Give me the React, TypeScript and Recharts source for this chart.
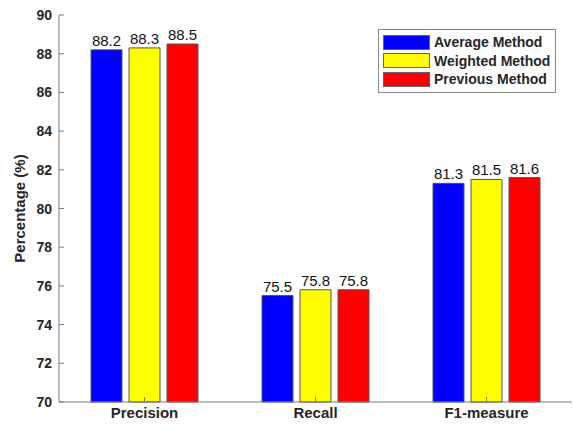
import { BarChart, Bar, XAxis, YAxis, Legend, LabelList } from "recharts";

const categories = ["Precision", "Recall", "F1-measure"];
const averageValues = [88.2, 75.5, 81.3];
const weightedValues = [88.3, 75.8, 81.5];
const previousValues = [88.5, 75.8, 81.6];
const seriesNames = ["Average Method", "Weighted Method", "Previous Method"];
const yTicks = [70, 72, 74, 76, 78, 80, 82, 84, 86, 88, 90];

const FONT = '"Liberation Sans", Arial, sans-serif';
const AXIS_COLOR = "#7a7a7a";
const TEXT_COLOR = "#262626";

const data = categories.map((name, i) => ({
  name,
  average: averageValues[i],
  weighted: weightedValues[i],
  previous: previousValues[i],
}));

// left tick: label outside, short tick mark pointing into the plot
function LeftTick(props: any) {
  const { x, y, payload } = props;
  return (
    <g>
      <line x1={x + 7} y1={y} x2={x + 12} y2={y} stroke={AXIS_COLOR} />
      <text
        x={x}
        y={y}
        dy="0.36em"
        textAnchor="end"
        fill={TEXT_COLOR}
        fontSize={14}
        fontWeight="bold"
        fontFamily={FONT}
      >
        {payload.value}
      </text>
    </g>
  );
}

function BottomTick(props: any) {
  const { x, y, payload } = props;
  return (
    <g>
      <line x1={x} y1={y - 5} x2={x} y2={y - 10} stroke={AXIS_COLOR} />
      <text
        x={x}
        y={y}
        dy="0.75em"
        textAnchor="middle"
        fill={TEXT_COLOR}
        fontSize={15}
        fontWeight="bold"
        fontFamily={FONT}
      >
        {payload.value}
      </text>
    </g>
  );
}

function LegendBox(props: any) {
  const items = [...(props.payload || [])].sort(
    (a: any, b: any) => seriesNames.indexOf(a.value) - seriesNames.indexOf(b.value)
  );
  return (
    <div
      style={{
        border: "1px solid #8a8a8a",
        background: "#fff",
        padding: "3px 4px 3px 4px",
        width: 168,
        fontFamily: FONT,
      }}
    >
      {items.map((entry: any) => (
        <div
          key={entry.value}
          style={{ display: "flex", alignItems: "center", height: 18.5 }}
        >
          <span
            style={{
              display: "inline-block",
              width: 45,
              height: 13,
              background: entry.color,
              border: "1px solid #666",
              marginRight: 4,
            }}
          />
          <span
            style={{
              fontSize: 14,
              fontWeight: "bold",
              color: TEXT_COLOR,
              whiteSpace: "nowrap",
            }}
          >
            {entry.value}
          </span>
        </div>
      ))}
    </div>
  );
}

export default function App() {
  return (
    <div style={{ position: "absolute", left: 0, top: 0, background: "#fff" }}>
      <BarChart
        width={573}
        height={428}
        data={data}
        margin={{ top: 15, right: 1, bottom: 0, left: 0 }}
        barSize={31}
        barGap={7}
        barCategoryGap={0}
      >
        <XAxis
          dataKey="name"
          height={26}
          stroke={AXIS_COLOR}
          tickLine={false}
          tickSize={0}
          tickMargin={5}
          tick={<BottomTick />}
          interval={0}
        />
        <XAxis
          xAxisId="top"
          dataKey="name"
          orientation="top"
          height={0}
          mirror
          stroke={AXIS_COLOR}
          tick={false}
          tickSize={5}
        />
        <YAxis
          domain={[70, 90]}
          ticks={yTicks}
          width={59}
          stroke={AXIS_COLOR}
          tickLine={false}
          tickSize={0}
          tickMargin={7}
          tick={<LeftTick />}
          interval={0}
          label={{
            value: "Percentage (%)",
            angle: -90,
            position: "center",
            dx: -10,
            fill: TEXT_COLOR,
            fontSize: 15,
            fontWeight: "bold",
            fontFamily: FONT,
          }}
        />
        <YAxis
          yAxisId="right"
          orientation="right"
          domain={[70, 90]}
          ticks={yTicks}
          width={0}
          mirror
          stroke={AXIS_COLOR}
          tick={false}
          tickSize={5}
        />
        <Legend
          layout="horizontal"
          verticalAlign="middle"
          align="center"
          content={<LegendBox />}
          wrapperStyle={{ position: "absolute", left: 378, top: 29, width: "auto", height: "auto" }}
        />
        <Bar dataKey="average" name="Average Method" fill="#0000ff" stroke="#555" strokeWidth={1} isAnimationActive={false}>
          <LabelList dataKey="average" position="top" offset={4} fill="#111" fontSize={15} fontFamily={FONT} />
        </Bar>
        <Bar dataKey="weighted" name="Weighted Method" fill="#ffff00" stroke="#555" strokeWidth={1} isAnimationActive={false}>
          <LabelList dataKey="weighted" position="top" offset={4} fill="#111" fontSize={15} fontFamily={FONT} />
        </Bar>
        <Bar dataKey="previous" name="Previous Method" fill="#ff0000" stroke="#555" strokeWidth={1} isAnimationActive={false}>
          <LabelList dataKey="previous" position="top" offset={4} fill="#111" fontSize={15} fontFamily={FONT} />
        </Bar>
      </BarChart>
    </div>
  );
}
